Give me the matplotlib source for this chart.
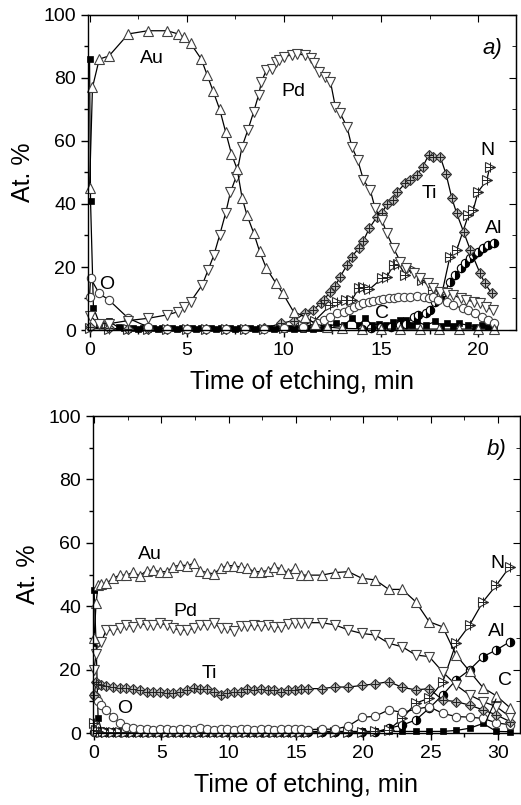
import numpy as np
import matplotlib.pyplot as plt

plt.rcParams['font.family'] = ['Liberation Sans', 'DejaVu Sans']

# ---------------- panel a) ----------------
au_a_t = [0.0, 0.15, 0.5, 1.0, 2.0, 3.0, 4.0, 4.55, 4.85, 5.2,
          5.75, 6.05, 6.35, 6.7, 7.0, 7.3, 7.6, 7.85, 8.1, 8.45,
          8.75, 9.1, 9.6, 9.95, 10.5, 11.1, 11.6, 12.2, 13.0, 14.0,
          15.0, 16.0, 17.0, 18.0, 19.0, 20.0, 20.8]
au_a = [45, 77, 86, 87, 94, 95, 95, 94, 93, 91,
        86, 81, 76, 70, 63, 56, 51, 42, 36.5, 30.8,
        25, 19.6, 14.8, 11.6, 5.8, 4.2, 2.0, 1.0, 0.5, 0.4,
        0.3, 0.3, 0.3, 0.3, 0.3, 0.3, 0.3]

pd_a_t = [0.0, 0.5, 1.0, 2.0, 3.0, 4.0, 4.55, 4.85, 5.2, 5.8,
          6.1, 6.4, 6.7, 7.0, 7.25, 7.55, 7.85, 8.15, 8.45, 8.7,
          8.85, 9.1, 9.4, 9.6, 9.75, 10.0, 10.4, 10.7, 11.1, 11.4,
          11.55, 11.8, 12.1, 12.4, 12.65, 12.9, 13.25, 13.5, 13.8, 14.1,
          14.45, 14.7, 15.05, 15.3, 15.65, 16.0, 16.3, 16.7, 17.0, 17.4,
          17.7, 18.05, 18.4, 18.7, 19.1, 19.4, 19.8, 20.1, 20.4, 20.75]
pd_a = [4.5, 2.0, 2.0, 3.0, 3.7, 4.8, 5.8, 7.4, 9.0, 14.3,
        19.0, 23.8, 30.2, 37.0, 43.7, 48.7, 58.2, 63.5, 69.3, 74.6,
        78.8, 82.5, 83.0, 85.2, 85.7, 86.8, 87.3, 87.6, 87.3, 86.2,
        84.7, 82.0, 80.4, 78.8, 70.9, 68.8, 64.5, 58.2, 54.0, 47.6,
        44.4, 38.6, 34.9, 30.7, 25.9, 21.7, 19.6, 18.0, 16.4, 14.8,
        13.2, 12.2, 11.6, 11.1, 10.1, 9.5, 9.0, 8.5, 7.4, 6.3]

ti_a_t = [0.0, 1.0, 2.0, 3.0, 4.0, 5.0, 6.0, 7.0, 8.0, 9.0,
          9.85, 10.5, 11.1, 11.5, 11.9, 12.05, 12.4, 12.65, 12.9, 13.25,
          13.5, 13.85, 14.1, 14.4, 14.8, 15.05, 15.3, 15.6, 15.85, 16.25,
          16.5, 16.85, 17.15, 17.45, 17.7, 18.05, 18.35, 18.65, 18.9, 19.25,
          19.6, 20.1, 20.35, 20.7]
ti_a = [1.0, 0.5, 0.3, 0.3, 0.3, 0.3, 0.3, 0.3, 0.3, 0.5,
        2.1, 3.0, 5.3, 6.3, 8.5, 9.5, 12.2, 14.0, 16.9, 20.6,
        23.3, 25.9, 28.4, 32.3, 36.0, 37.0, 40.0, 41.3, 43.9, 46.6,
        47.6, 49.2, 51.8, 55.5, 55.0, 55.0, 49.5, 41.8, 37.0, 31.2,
        25.4, 18.0, 14.8, 11.6]

n_a_t = [0.0, 1.0, 2.0, 3.0, 4.0, 5.0, 6.0, 7.0, 8.0, 9.0,
         10.0, 11.0, 11.6, 12.4, 12.75, 13.2, 13.5, 13.85, 14.1, 14.4,
         15.05, 15.3, 15.65, 15.9, 16.25, 16.5, 17.1, 17.7, 18.15, 18.55,
         18.9, 19.5, 19.75, 20.0, 20.45, 20.6]
n_a = [0.5, 0.3, 0.3, 0.3, 0.3, 0.3, 0.3, 0.3, 0.3, 0.3,
       0.5, 1.5, 3.0, 7.9, 9.0, 9.5, 9.5, 13.2, 13.8, 12.9,
       16.4, 16.9, 20.6, 21.1, 17.5, 19.6, 15.9, 12.7, 12.0, 23.3,
       25.4, 36.5, 38.1, 43.9, 47.6, 51.8]

al_a_t = [14.0, 14.5, 15.0, 15.5, 16.0, 16.3, 16.7, 16.9, 17.3, 17.5,
          17.8, 18.05, 18.3, 18.55, 18.8, 19.1, 19.3, 19.6, 19.75, 20.0,
          20.25, 20.5, 20.8]
al_a = [0.3, 0.5, 0.8, 1.0, 1.5, 2.0, 4.2, 4.8, 5.3, 6.3,
        9.0, 10.5, 12.2, 15.3, 17.5, 19.6, 21.2, 22.7, 23.8, 24.9,
        25.9, 27.0, 27.5]

o_a_t = [0.0, 0.05, 0.5, 1.0, 2.0, 3.0, 4.0, 5.0, 6.0, 7.0,
         8.0, 9.0, 10.0, 11.0, 11.7, 12.05, 12.4, 12.75, 13.1, 13.35,
         13.6, 13.85, 14.1, 14.4, 14.6, 14.9, 15.1, 15.4, 15.65, 15.9,
         16.2, 16.5, 16.85, 17.2, 17.45, 17.7, 17.95, 18.4, 18.7, 19.2,
         19.5, 19.85, 20.2, 20.5, 20.8]
o_a = [10.6, 16.4, 11.6, 9.5, 3.7, 1.0, 0.3, 0.3, 0.3, 0.3,
       0.3, 0.3, 0.5, 1.0, 2.1, 3.2, 4.2, 5.3, 5.8, 6.5,
       7.4, 7.9, 8.5, 9.0, 9.3, 9.5, 9.7, 10.0, 10.3, 10.6,
       10.6, 10.6, 10.8, 10.6, 10.0, 10.6, 9.5, 9.0, 7.9, 6.9,
       6.3, 5.3, 4.2, 3.2, 2.3]

c_a_t = [0.0, 0.05, 0.2, 0.5, 1.0, 1.5, 1.75, 2.0, 2.25, 2.5,
         2.75, 3.0, 3.25, 3.5, 3.75, 4.0, 4.25, 4.5, 4.75, 5.0,
         5.25, 5.5, 5.75, 6.0, 6.25, 6.5, 6.75, 7.0, 7.25, 7.5,
         7.75, 8.0, 8.25, 8.5, 8.75, 9.0, 9.25, 9.5, 9.75, 10.0,
         10.25, 10.5, 10.75, 11.0, 11.25, 11.5, 11.75, 12.0, 12.25, 12.7,
         13.1, 13.5, 13.85, 14.2, 14.55, 14.9, 15.25, 15.6, 16.0, 16.3,
         16.6, 16.85, 17.3, 17.8, 18.1, 18.4, 18.7, 19.0, 19.5, 19.85,
         20.2, 20.5, 20.8]
c_a = [86, 41, 7.1, 2.3, 2.7, 0.8, 0.5, 0.4, 0.6, 0.4,
       0.6, 0.4, 0.6, 0.4, 0.6, 0.4, 0.6, 0.4, 0.6, 0.4,
       0.6, 0.4, 0.6, 0.4, 0.6, 0.4, 0.6, 0.4, 0.6, 0.4,
       0.6, 0.4, 0.6, 0.4, 0.6, 0.4, 0.6, 0.4, 0.6, 0.4,
       0.6, 0.4, 0.6, 0.4, 0.6, 0.4, 0.6, 0.5, 0.8, 2.1,
       1.5, 3.7, 1.5, 3.7, 1.5, 2.0, 1.5, 2.5, 3.2, 3.2,
       1.5, 2.7, 1.5, 2.7, 1.2, 2.1, 1.2, 2.1, 1.5, 1.0,
       1.7, 1.0, 1.0]

# ---------------- panel b) ----------------
t_b = [0.0, 0.15, 0.3, 0.55, 0.9, 1.4, 1.9, 2.4, 2.9, 3.4,
       3.9, 4.4, 4.9, 5.4, 5.9, 6.4, 6.9, 7.4, 7.9, 8.4,
       8.9, 9.4, 9.9, 10.4, 10.9, 11.4, 11.9, 12.4, 12.9, 13.4,
       13.9, 14.4, 14.9, 15.4, 15.9, 16.9, 17.9, 18.9, 19.9, 20.9,
       21.9, 22.9, 23.9, 24.9, 25.9, 26.9, 27.9, 28.9, 29.9, 30.9]
au_b = [30, 41, 46.7, 47.0, 47.2, 48.8, 49.8, 49.8, 50.7, 49.6,
        51.2, 51.4, 50.9, 50.9, 52.5, 53.0, 52.8, 53.5, 51.2, 50.6,
        50.2, 52.0, 52.8, 52.8, 52.3, 52.0, 50.9, 50.9, 51.2, 52.5,
        51.7, 50.6, 52.0, 49.8, 49.8, 49.8, 50.6, 50.9, 48.8, 48.3,
        45.3, 45.3, 41.4, 35.1, 33.5, 24.6, 19.5, 14.3, 11.7, 8.0]
pd_b = [20, 25, 28.8, 28.8, 32.5, 32.5, 33.0, 34.1, 33.5, 34.6,
        34.1, 34.1, 34.6, 34.1, 33.0, 32.5, 32.5, 33.0, 34.1, 34.1,
        34.8, 33.0, 33.0, 32.3, 33.8, 33.8, 34.0, 33.8, 34.1, 33.5,
        33.4, 34.4, 34.8, 34.8, 34.8, 34.8, 34.1, 32.5, 31.4, 30.9,
        28.3, 27.2, 24.6, 24.1, 19.3, 15.1, 12.0, 9.9, 8.3, 5.1]
ti_b = [12.0, 16.0, 15.5, 15.2, 14.8, 14.6, 14.3, 14.1, 14.0, 13.5,
        13.0, 13.0, 12.8, 12.5, 12.5, 13.0, 13.6, 14.1, 14.0, 14.0,
        13.0, 12.0, 12.5, 13.0, 13.0, 14.0, 13.5, 14.0, 13.5, 13.5,
        13.0, 13.5, 13.5, 14.0, 14.0, 14.0, 14.5, 14.5, 15.0, 15.5,
        16.2, 14.4, 13.6, 14.0, 10.4, 9.9, 8.8, 7.3, 5.7, 3.6]
n_b = [3.0, 1.0, 0.5, 0.3, 0.3, 0.3, 0.3, 0.3, 0.3, 0.3,
       0.3, 0.3, 0.3, 0.3, 0.3, 0.3, 0.3, 0.3, 0.3, 0.3,
       0.3, 0.3, 0.3, 0.3, 0.3, 0.3, 0.3, 0.3, 0.3, 0.3,
       0.3, 0.3, 0.3, 0.3, 0.3, 0.3, 0.3, 0.3, 0.3, 0.5,
       1.0, 4.6, 9.4, 11.0, 16.0, 28.3, 34.0, 41.4, 46.7, 52.5]
al_b = [0.3, 0.3, 0.3, 0.3, 0.3, 0.3, 0.3, 0.3, 0.3, 0.3,
        0.3, 0.3, 0.3, 0.3, 0.3, 0.3, 0.3, 0.3, 0.3, 0.3,
        0.3, 0.3, 0.3, 0.3, 0.3, 0.3, 0.3, 0.3, 0.3, 0.3,
        0.3, 0.3, 0.3, 0.3, 0.3, 0.3, 0.3, 0.3, 0.3, 0.3,
        1.5, 2.5, 4.1, 7.8, 12.0, 16.7, 19.9, 24.1, 26.2, 28.8]
o_b = [12.0, 11.5, 10.0, 8.8, 7.3, 5.2, 3.2, 1.8, 1.5, 1.2,
       1.3, 1.1, 1.2, 1.3, 1.1, 1.2, 1.3, 1.1, 1.6, 1.2,
       1.1, 1.3, 1.2, 1.1, 1.3, 1.2, 1.1, 1.3, 1.2, 1.1,
       1.3, 1.2, 1.4, 1.2, 1.1, 1.2, 1.2, 2.2, 4.9, 5.3,
       7.3, 6.5, 7.5, 8.3, 6.2, 5.2, 5.0, 4.6, 3.2, 2.6]
c_b = [45, 28.3, 4.6, 1.0, 0.5, 0.5, 0.5, 0.5, 0.5, 0.5,
       0.5, 0.5, 0.5, 0.5, 0.5, 0.5, 0.5, 0.5, 0.5, 0.5,
       0.5, 0.5, 0.5, 0.5, 0.5, 0.5, 0.5, 0.5, 0.5, 0.5,
       0.5, 0.5, 0.5, 0.5, 0.5, 0.5, 0.5, 0.5, 0.5, 0.5,
       0.5, 0.5, 0.5, 0.5, 0.5, 0.8, 1.5, 3.0, 0.5, 0.4]

styles = {
    'Au': dict(marker='^', ms=7, mfc='white', mec='#404040', mew=0.8),
    'Pd': dict(marker='v', ms=7, mfc='white', mec='#404040', mew=0.8),
    'Ti': dict(marker='D', ms=5.5, mfc='#b8b8b8', mec='#303030', mew=0.8),
    'N': dict(marker='>', ms=7, mfc='white', mec='#303030', mew=0.8),
    'Al': dict(marker='o', ms=6, fillstyle='right', mfc='black',
               markerfacecoloralt='white', mec='black', mew=0.8),
    'O': dict(marker='o', ms=6, mfc='white', mec='#404040', mew=0.8),
    'C': dict(marker='s', ms=4, mfc='black', mec='black', mew=0.5),
}


def curve(ax, t, y, el):
    ax.plot(t, y, color='black', lw=0.9, clip_on=False, **styles[el])
    # crossed markers for Ti and N
    if el in ('Ti', 'N'):
        ax.plot(t, y, ls='none', marker='+', ms=styles[el]['ms'],
                mec='#202020', mew=0.7, clip_on=False)


def frame(ax, xmax, tag):
    ax.set_xlim(-0.08, xmax)
    ax.set_ylim(0, 100)
    ax.set_xticks(np.arange(0, xmax, 5))
    ax.set_xticks(np.arange(0, xmax, 2.5), minor=True)
    ax.set_yticks(np.arange(0, 101, 20))
    ax.set_yticks(np.arange(0, 101, 10), minor=True)
    ax.tick_params(which='major', direction='out', length=5, width=1, labelsize=14)
    ax.tick_params(which='minor', direction='out', length=3, width=1)
    for s in ax.spines.values():
        s.set_linewidth(1)
    top = ax.secondary_xaxis('top')
    top.set_xticks(np.arange(0, xmax, 5))
    top.set_xticks(np.arange(0, xmax, 2.5), minor=True)
    top.tick_params(which='major', direction='in', length=5, labeltop=False)
    top.tick_params(which='minor', direction='in', length=3)
    right = ax.secondary_yaxis('right')
    right.set_yticks(np.arange(0, 101, 20))
    right.set_yticks(np.arange(0, 101, 10), minor=True)
    right.tick_params(which='major', direction='in', length=5, labelright=False)
    right.tick_params(which='minor', direction='in', length=3)
    ax.set_xlabel('Time of etching, min', fontsize=18, labelpad=8)
    ax.set_ylabel('At. %', fontsize=18, labelpad=6)
    ax.text(0.945, 0.895, tag, transform=ax.transAxes, fontsize=16,
            style='italic', ha='center', va='center')


fig = plt.figure(figsize=(5.21, 8.05), dpi=100)
ax1 = fig.add_axes([88 / 521, 1 - 330 / 805, 428 / 521, 315 / 805])
ax2 = fig.add_axes([93 / 521, 1 - 733 / 805, 427 / 521, 317 / 805])

curve(ax1, c_a_t, c_a, 'C')
curve(ax1, al_a_t, al_a, 'Al')
curve(ax1, n_a_t, n_a, 'N')
curve(ax1, ti_a_t, ti_a, 'Ti')
curve(ax1, o_a_t, o_a, 'O')
curve(ax1, pd_a_t, pd_a, 'Pd')
curve(ax1, au_a_t, au_a, 'Au')
frame(ax1, 21.95, 'a)')

lab_kw = dict(fontsize=14, ha='center', va='center')
ax1.text(3.2, 86.3, 'Au', **lab_kw)
ax1.text(10.5, 75.6, 'Pd', **lab_kw)
ax1.text(17.5, 43.4, 'Ti', **lab_kw)
ax1.text(20.5, 57.1, 'N', **lab_kw)
ax1.text(20.8, 32.3, 'Al', **lab_kw)
ax1.text(15.05, 5.3, 'C', **lab_kw)
ax1.text(0.9, 14.3, 'O', **lab_kw)

curve(ax2, t_b, c_b, 'C')
curve(ax2, t_b, al_b, 'Al')
curve(ax2, t_b, n_b, 'N')
curve(ax2, t_b, o_b, 'O')
curve(ax2, t_b, ti_b, 'Ti')
curve(ax2, t_b, pd_b, 'Pd')
curve(ax2, t_b, au_b, 'Au')
frame(ax2, 31.65, 'b)')

ax2.text(4.15, 56.2, 'Au', **lab_kw)
ax2.text(6.75, 38.3, 'Pd', **lab_kw)
ax2.text(8.6, 18.8, 'Ti', **lab_kw)
ax2.text(2.3, 7.8, 'O', **lab_kw)
ax2.text(30.0, 53.5, 'N', **lab_kw)
ax2.text(29.9, 32.0, 'Al', **lab_kw)
ax2.annotate('C', xy=(29.05, 3.0), xytext=(30.5, 16.7), fontsize=14,
             ha='center', va='center',
             arrowprops=dict(arrowstyle='-', color='black', lw=0.8,
                             shrinkA=6, shrinkB=0))

fig.savefig('out.png', dpi=100)
